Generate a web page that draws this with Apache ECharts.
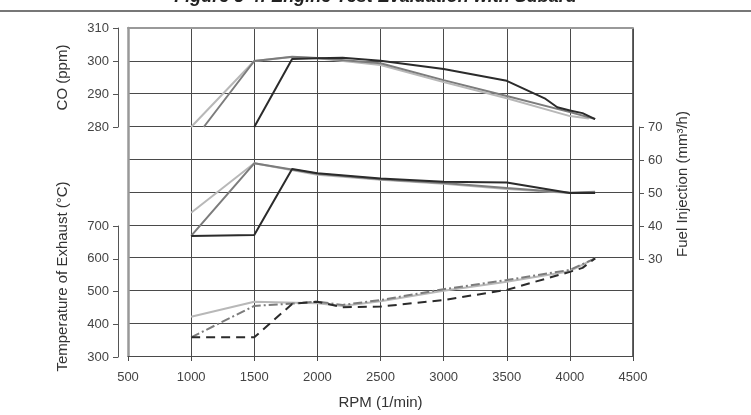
<!DOCTYPE html>
<html>
<head>
<meta charset="utf-8">
<script src="https://cdn.jsdelivr.net/npm/echarts@6/dist/echarts.min.js"></script>
<style>
html,body{margin:0;padding:0;background:#fff;}
#chart{width:751px;height:415px;}
</style>
</head>
<body>
<div id="chart"></div>
<script>
// ---- data ----
const xTicks = [500, 1000, 1500, 2000, 2500, 3000, 3500, 4000, 4500];

const coLightRpm  = [1000, 1500, 1800, 2000, 2500, 3000, 3500, 4000, 4150];
const coLightVal  = [280, 300, 301.2, 300.8, 298.8, 293.6, 288.7, 283.3, 282.6];
const coMedRpm    = [1100, 1500, 1800, 2000, 2500, 3000, 3500, 4000, 4200];
const coMedVal    = [280, 300, 301.3, 300.9, 299.3, 294.2, 289.4, 284.5, 282.4];
const coDarkRpm   = [1500, 1800, 2000, 2200, 2500, 3000, 3500, 3800, 3900, 4000, 4100, 4200];
const coDarkVal   = [280, 300.6, 300.8, 301, 300.1, 297.6, 294, 288.7, 286, 285, 284.2, 282.4];

const fuelLightRpm = [1000, 1500, 2000, 2500, 3000, 3500, 4000, 4200];
const fuelLightVal = [44, 59, 55.5, 54, 52.8, 51.2, 50, 50.2];
const fuelMedRpm   = [1000, 1500, 2000, 2500, 3000, 3500, 4000, 4200];
const fuelMedVal   = [37, 59, 55.8, 54.2, 53, 51.5, 50.1, 50.4];
const fuelDarkRpm  = [1000, 1500, 1800, 2000, 2500, 3000, 3500, 4000, 4200];
const fuelDarkVal  = [37, 37.3, 57.3, 56, 54.4, 53.4, 53.2, 50, 50];

const tempSolidRpm   = [1000, 1500, 2000, 2200, 2500, 3000, 3500, 4000, 4200];
const tempSolidVal   = [423, 469, 464, 456, 470, 502, 530, 562, 601];
const tempDashDotRpm = [1000, 1500, 1800, 2000, 2200, 2500, 3000, 3500, 4000, 4200];
const tempDashDotVal = [360, 456, 463, 469, 459, 474, 507, 535, 566, 601];
const tempDashRpm    = [1000, 1500, 1800, 2000, 2200, 2500, 3000, 3500, 4000, 4100, 4200];
const tempDashVal    = [360, 360, 462, 469, 452, 454, 474, 505, 560, 572, 601];

const titleText = 'Figure 3-4: Engine Test Evaluation with Subaru';

// ---- helpers ----
const pairs = (xs, ys) => xs.map((x, i) => [x, ys[i]]);
const FONT = 'Liberation Sans';
const DARK = '#2b2b2b', MED = '#7c7c7c', LIGHT = '#b8b8b8';
const GRID_COLOR = '#4a4a4a';

const chart = echarts.init(document.getElementById('chart'), null, {renderer: 'canvas'});

const L = 128, W = 505;
const hiddenX = (gi) => ({
  type: 'value', gridIndex: gi, min: 500, max: 4500, interval: 500,
  show: false
});
const sideAxis = (gi, pos, min, max, name, gap, pad) => ({
  type: 'value', gridIndex: gi, position: pos, min: min, max: max, interval: (max - min >= 100 ? 100 : 10),
  offset: pos === 'left' ? 10 : 6,
  name: name, nameLocation: 'middle', nameGap: gap, nameRotate: 90,
  nameTextStyle: {fontFamily: FONT, fontSize: 15, color: '#333', padding: pad},
  axisLine: {show: true, lineStyle: {color: '#555', width: 1}},
  axisTick: {show: true, inside: false, length: 5, lineStyle: {color: '#555'}},
  axisLabel: {fontFamily: FONT, fontSize: 13, color: '#444', margin: 9},
  splitLine: {show: false}
});

const line = (xi, yi, data, color, type, z) => ({
  type: 'line', xAxisIndex: xi, yAxisIndex: yi, data: data,
  symbol: 'none', smooth: false, z: z || 3,
  lineStyle: {color: color, width: 2, type: type || 'solid'}
});

const option = {
  animation: false,
  backgroundColor: '#fff',
  grid: [
    {left: L, top: 28, width: W, height: 329},
    {left: L, top: 28, width: W, height: 99},
    {left: L, top: 127, width: W, height: 132},
    {left: L, top: 226, width: W, height: 131}
  ],
  xAxis: [
    {
      type: 'value', gridIndex: 0, min: 500, max: 4500, interval: 500,
      name: 'RPM (1/min)', nameLocation: 'middle', nameGap: 39,
      nameTextStyle: {fontFamily: FONT, fontSize: 15, color: '#333'},
      axisLine: {show: true, lineStyle: {color: GRID_COLOR, width: 1}},
      axisTick: {show: true, length: 5, inside: false, lineStyle: {color: GRID_COLOR}},
      axisLabel: {fontFamily: FONT, fontSize: 13, color: '#444', margin: 15,
        formatter: (v) => String(v)},
      splitLine: {show: true, lineStyle: {color: GRID_COLOR, width: 1}}
    },
    {
      type: 'value', gridIndex: 0, position: 'top', min: 500, max: 4500,
      axisLine: {show: true, lineStyle: {color: '#999', width: 2}},
      axisTick: {show: false}, axisLabel: {show: false}, splitLine: {show: false}
    },
    hiddenX(1), hiddenX(2), hiddenX(3)
  ],
  yAxis: [
    {
      type: 'value', gridIndex: 0, min: 0, max: 10, interval: 1,
      axisLine: {show: true, lineStyle: {color: '#999', width: 2.5}},
      axisTick: {show: false}, axisLabel: {show: false},
      splitLine: {show: true, lineStyle: {color: GRID_COLOR, width: 1}}
    },
    sideAxis(1, 'left', 280, 310, 'CO (ppm)', 48, [0, 0, 0, 0]),
    sideAxis(2, 'right', 30, 70, 'Fuel Injection (mm³/h)', 36, [0, 0, 0, 18]),
    sideAxis(3, 'left', 300, 700, 'Temperature of Exhaust (°C)', 48, [0, 0, 0, 30])
  ],
  graphic: [
    {
      type: 'text', left: 'center', top: -12,
      style: {text: titleText, font: 'bold italic 18px "Liberation Sans"', fill: '#222'}
    },
    {
      type: 'line', shape: {x1: 0, y1: 11, x2: 751, y2: 11},
      style: {stroke: '#777', lineWidth: 2}
    },
    {
      type: 'line', shape: {x1: 633, y1: 28, x2: 633, y2: 357},
      style: {stroke: '#333', lineWidth: 1.5}
    }
  ],
  series: [
    line(2, 1, pairs(coLightRpm, coLightVal), LIGHT),
    line(2, 1, pairs(coMedRpm, coMedVal), MED),
    line(2, 1, pairs(coDarkRpm, coDarkVal), DARK),
    line(3, 2, pairs(fuelLightRpm, fuelLightVal), LIGHT),
    line(3, 2, pairs(fuelMedRpm, fuelMedVal), MED),
    line(3, 2, pairs(fuelDarkRpm, fuelDarkVal), DARK),
    line(4, 3, pairs(tempSolidRpm, tempSolidVal), LIGHT),
    line(4, 3, pairs(tempDashDotRpm, tempDashDotVal), MED, [9, 3, 2, 3]),
    line(4, 3, pairs(tempDashRpm, tempDashVal), DARK, [9, 6])
  ]
};
chart.setOption(option);
</script>
</body>
</html>
